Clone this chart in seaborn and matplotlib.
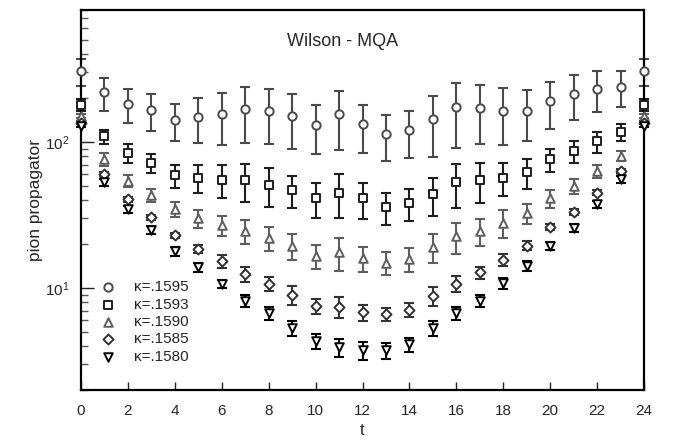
import numpy as np
import pandas as pd
import matplotlib
matplotlib.use("Agg")
import matplotlib.pyplot as plt
import seaborn as sns

t = list(range(25))

labels = ["κ=.1595", "κ=.1593", "κ=.1590", "κ=.1585", "κ=.1580"]

k1595 = [305, 218, 183, 166, 142, 149, 155, 169, 163, 151, 131, 155, 132, 113, 120,
         143, 173, 171, 164, 163, 190, 214, 232, 238, 305]
e1595 = [63, 54, 48, 47, 40, 51, 60, 70, 67, 62, 48, 67, 48, 39, 43,
         64, 82, 75, 69, 62, 68, 73, 73, 66, 63]

k1593 = [180, 109, 84, 72, 59, 57, 55, 55, 51, 47, 41, 45, 41, 36, 38,
         44, 53, 55, 57, 62, 76, 87, 101, 117, 180]
e1593 = [18, 12.5, 12.5, 11, 10.5, 12.5, 14, 16, 15, 11.5, 11, 15, 11.5, 9, 9.5,
         13, 18, 17, 14.5, 14.5, 13.5, 15, 16.5, 15.5, 18]

k1590 = [150, 76, 54, 43, 34.5, 30, 26.8, 24.5, 22, 19.5, 16.6, 17.5, 16, 14.9, 15.8,
         19.1, 22.6, 24.5, 28, 32.4, 41, 50, 63, 80.5, 150]
e1590 = [5, 7.5, 5, 4.5, 4, 4.2, 4.2, 4.6, 4.1, 4, 3.1, 4.5, 3.1, 2.7, 2.9,
         4.2, 5.4, 5.1, 6, 4.9, 5.5, 5.8, 6, 6, 5]

k1585 = [135, 60, 40.5, 30.5, 22.9, 18.6, 15.2, 12.4, 10.7, 9.0, 7.5, 7.4, 6.8, 6.6, 7.1,
         8.85, 10.7, 12.8, 15.6, 19.5, 26.2, 33, 45, 63.4, 135]
e1585 = [3, 2, 1.5, 1.2, 1.0, 1.2, 1.5, 1.4, 1.2, 1.3, 0.9, 1.2, 0.9, 0.7, 0.8,
         1.3, 1.3, 1.2, 1.4, 1.3, 1.3, 1.5, 1.5, 2, 3]

k1580 = [129, 53, 34.5, 25, 17.8, 13.9, 10.7, 8.2, 6.7, 5.3, 4.3, 3.94, 3.73, 3.73, 4.1,
         5.3, 6.7, 8.2, 10.8, 14.2, 19.5, 25.8, 37.3, 55.6, 129]
e1580 = [3, 3, 2, 1.5, 1.2, 1.0, 0.7, 0.8, 0.7, 0.6, 0.5, 0.55, 0.5, 0.45, 0.45,
         0.6, 0.7, 0.8, 0.9, 1.1, 1.2, 1.6, 2.2, 3, 3]

xticks = list(range(0, 25, 2))
yticks = [10, 100]
yticklabels = ["10$^1$", "10$^2$"]

series = [k1595, k1593, k1590, k1585, k1580]
errors = [e1595, e1593, e1590, e1585, e1580]
markers = ["o", "s", "^", "D", "v"]
colors = ["#4a4a4a", "#1e1e1e", "#5e5e5e", "#333333", "#000000"]
sizes = [36, 34, 38, 26, 38]

sns.set_theme(style="ticks")
plt.rcParams["font.family"] = ["Liberation Sans", "DejaVu Sans"]
plt.rcParams["mathtext.default"] = "regular"

fig = plt.figure(figsize=(6.77, 4.40), dpi=100)
ax = fig.add_axes([81 / 677, 1 - 390 / 440, (644 - 81) / 677, (390 - 10) / 440])

for vals, errs, mk, col, sz, lab in zip(series, errors, markers, colors, sizes, labels):
    ax.errorbar(t, vals, yerr=errs, fmt="none", ecolor=col, elinewidth=1.5,
                capsize=3.6, capthick=1.5, clip_on=False, zorder=2)
    df = pd.DataFrame({"t": t, "v": vals})
    sns.scatterplot(data=df, x="t", y="v", marker=mk, s=sz, facecolor="white",
                    edgecolor=col, linewidth=1.4, ax=ax, label=lab, zorder=3,
                    clip_on=False)

ax.set_yscale("log")
ax.set_xlim(0, 24)
ax.set_ylim(2, 800)
ax.set_xticks(xticks)
ax.set_xticklabels([str(x) for x in xticks])
ax.set_yticks(yticks)
ax.set_yticklabels(yticklabels)
ax.yaxis.set_minor_locator(matplotlib.ticker.LogLocator(base=10, subs=np.arange(2, 10)))
ax.yaxis.set_minor_formatter(matplotlib.ticker.NullFormatter())

ax.tick_params(axis="both", which="major", direction="in", labelsize=11, width=1.0,
               color="#222222", top=False, right=False)
ax.tick_params(axis="y", which="major", length=9, pad=8)
ax.tick_params(axis="y", which="minor", direction="in", length=5, width=1.0,
               color="#555555", right=False)
ax.tick_params(axis="x", which="major", length=6, pad=10)

for sp in ax.spines.values():
    sp.set_linewidth(1.6)
    sp.set_color("black")
    sp.set_visible(True)

ax.set_xlabel("t", fontsize=12, labelpad=4)
ax.set_ylabel("pion propagator", fontsize=12.5, labelpad=2)
ax.text(0.464, 0.916, "Wilson - MQA", transform=ax.transAxes, ha="center",
        va="center", fontsize=13)

ax.legend(loc="upper left", bbox_to_anchor=(0.024, 0.305), borderaxespad=0,
          frameon=False, fontsize=11, handlelength=1.0, handletextpad=1.2,
          labelspacing=0.22, borderpad=0.4)

fig.savefig("out.png", dpi=100)
